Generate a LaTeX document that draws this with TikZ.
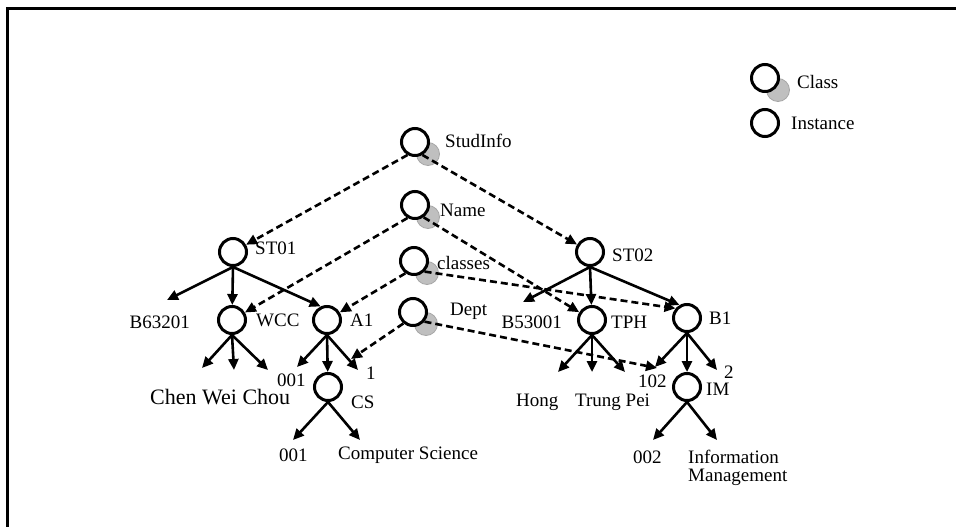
\documentclass[tikz,border=0pt]{standalone}
\usepackage{fontspec}
\setmainfont{Liberation Serif}
\usetikzlibrary{arrows.meta,calc,backgrounds}
\begin{document}
\begin{tikzpicture}[x=1pt,y=-1pt,
  inst/.style={circle, draw, line width=3pt, fill=white, minimum size=27pt, inner sep=0pt},
  hatchfill/.style={fill=gray!50, draw=gray!70, line width=0.8pt},
  txt/.style={inner sep=0pt, anchor=west, font=\fontsize{19}{20}\selectfont},
  txte/.style={txt, anchor=east},
  arr/.style={line width=2.6pt, -{Triangle[length=11pt,width=10pt]}},
  darr/.style={line width=2.6pt, dash pattern=on 7pt off 4pt, -{Triangle[length=11pt,width=10pt]}},
  frame/.style={line width=3pt}]
\useasboundingbox (0,0) rectangle (956,527);
\draw[frame] (7,527) -- (7,9) -- (956,9);

% class nodes
\node[inst] (StudInfo) at (415,142) {};
\node[inst] (Name) at (415,205) {};
\node[inst] (classes) at (414,261) {};
\node[inst] (Dept) at (413,312) {};
\node[inst] (LC) at (765,78) {};
% instance nodes
\node[inst] (ST01) at (233,252) {};
\node[inst] (WCC) at (232,320) {};
\node[inst] (A1) at (327,320) {};
\node[inst] (CS) at (328,387) {};
\node[inst] (ST02) at (590,252) {};
\node[inst] (TPH) at (592,320) {};
\node[inst] (B1) at (687,318) {};
\node[inst] (IM) at (687,387) {};
\node[inst] (LI) at (765,123) {};

\begin{scope}[on background layer]
\foreach \n in {StudInfo,Name,classes,Dept,LC}
  \path[hatchfill] ($(\n)+(13,12)$) circle (11.5);
\end{scope}

% labels
\node[txt] (tStudInfo) at (445,141) {StudInfo};
\node[txt] (tName) at (440,210) {Name};
\node[txt] (tclasses) at (437,263) {classes};
\node[txt] (tDept) at (450,311) {Dept};
\node[txt] (tST01) at (255,248) {ST01};
\node[txt] (tWCC) at (256,320) {WCC};
\node[txt] (tA1) at (350,320) {A1};
\node[txte] (tB63) at (190,322) {B63201};
\node[txte] (tB53) at (562,322) {B53001};
\node[txt] (tTPH) at (611,322) {TPH};
\node[txt] (tST02) at (612,255) {ST02};
\node[txt] (tB1) at (709,318) {B1};
\node[txt] (t102) at (638,381) {102};
\node[txt] (t2) at (724,372) {2};
\node[txt] (tIM) at (706,389) {IM};
\node[txt] (t001a) at (277,380) {001};
\node[txt] (t1) at (366,373) {1};
\node[txt] (tCS) at (351,402) {CS};
\node[txt] (t001b) at (279,455) {001};
\node[txt] (tCompSci) at (338,455) {Computer Science};
\node[txt] (t002) at (633,457) {002};
\node[txt] (tInfo) at (688,457) {Information};
\node[txt] (tMan) at (688,477) {Management};
\node[txt] (tHong) at (516,402) {Hong};
\node[txt] (tTrung) at (575,402) {Trung Pei};
\node[txt, font=\fontsize{22}{24}\selectfont] (tChen) at (150,397) {Chen Wei Chou};
\node[txt] (tClass) at (797,82) {Class};
\node[txt] (tInst) at (791,123) {Instance};

% arrow end points
\coordinate (eB63) at (167,300);
\coordinate (eW1) at (202,368);
\coordinate (eW2) at (234,370);
\coordinate (eW3) at (268,370);
\coordinate (eA1a) at (297,367);
\coordinate (eA1c) at (358,370);
\coordinate (eCSa) at (293,440);
\coordinate (eCSb) at (360,440);
\coordinate (eB53) at (523,302);
\coordinate (eT1) at (558,372);
\coordinate (eT2) at (592,372);
\coordinate (eT3) at (625,372);
\coordinate (eB1a) at (655,367);
\coordinate (eB1c) at (717,370);
\coordinate (eIMa) at (653,440);
\coordinate (eIMb) at (717,440);
\coordinate (eDcs) at (351,359);
\coordinate (eDim) at (657,368);

% solid arrows
\draw[arr] (ST01.south) -- (eB63);
\draw[arr] (ST01.south) -- (WCC);
\draw[arr] (ST01.south) -- (A1.115);
\draw[arr] (WCC.south) -- (eW1);
\draw[arr] (WCC.south) -- (eW2);
\draw[arr] (WCC.south) -- (eW3);
\draw[arr] (A1.south) -- (eA1a);
\draw[arr] (A1.south) -- (CS);
\draw[arr] (A1.south) -- (eA1c);
\draw[arr] (CS.south) -- (eCSa);
\draw[arr] (CS.south) -- (eCSb);
\draw[arr] (ST02.south) -- (eB53);
\draw[arr] (ST02.south) -- (TPH);
\draw[arr] (ST02.south) -- (B1.120);
\draw[arr] (TPH.south) -- (eT1);
\draw[arr] (TPH.south) -- (eT2);
\draw[arr] (TPH.south) -- (eT3);
\draw[arr] (B1.south) -- (eB1a);
\draw[arr] (B1.south) -- (IM);
\draw[arr] (B1.south) -- (eB1c);
\draw[arr] (IM.south) -- (eIMa);
\draw[arr] (IM.south) -- (eIMb);

% dashed class-instance links
\draw[darr] (StudInfo.240) -- (ST01);
\draw[darr] (StudInfo.300) -- (ST02);
\draw[darr] (Name.240) -- (WCC);
\draw[darr] (Name.305) -- (TPH);
\draw[darr] (classes.235) -- (A1);
\draw[darr] (classes.315) -- (B1.140);
\draw[darr] (Dept.230) -- (eDcs);
\draw[darr] (Dept.320) -- (eDim);
\end{tikzpicture}
\end{document}
